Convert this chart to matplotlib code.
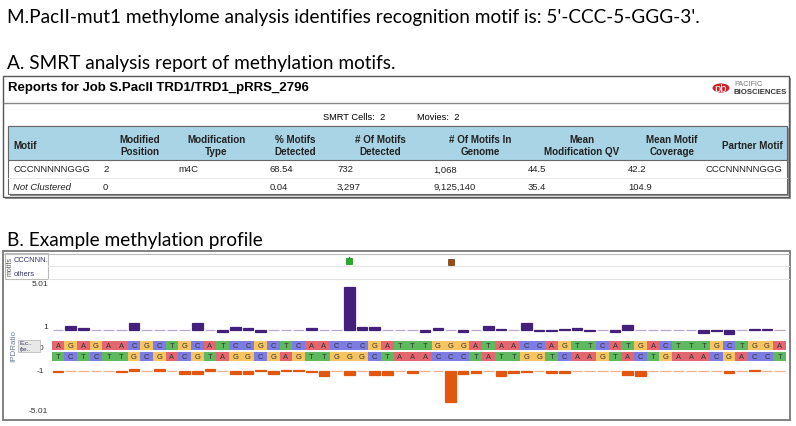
import matplotlib
matplotlib.use("Agg")
import matplotlib.pyplot as plt
from matplotlib.patches import Rectangle, Circle
from matplotlib.lines import Line2D
import matplotlib.transforms as mtransforms

# ---- data ----
title = "M.PacII-mut1 methylome analysis identifies recognition motif is: 5'-CCC-5-GGG-3'."
part_a = "A. SMRT analysis report of methylation motifs."
part_b = "B. Example methylation profile"
job_title = "Reports for Job S.PacII TRD1/TRD1_pRRS_2796"
smrt_cells = 2
movies = 2

col_headers = ["Motif", "Modified\nPosition", "Modification\nType", "% Motifs\nDetected",
               "# Of Motifs\nDetected", "# Of Motifs In\nGenome", "Mean\nModification QV",
               "Mean Motif\nCoverage", "Partner Motif"]
motifs = ["CCCNNNNNGGG", "Not Clustered"]
mod_position = [2, 0]
mod_type = ["m4C", ""]
pct_detected = [68.54, 0.04]
n_detected = [732, 3297]
n_genome = [1068, 9125140]
mean_qv = [44.5, 35.4]
mean_cov = [42.2, 104.9]
partner = ["CCCNNNNNGGG", ""]

top_seq = "AGAGAACGCTGCATCCGCTCAACCCGATTTGGGATAACCAGTTCATGACTTTGCTGGA"
bot_seq = "TCTCTTGCGACGTAGGCGAGTTGGGCTAAACCCTATTGGTCAAGTACTGAAACGACCT"

ipd_top = [0.97, 1.37, 1.22, 0.98, 0.98, 1.02, 1.62, 0.98, 0.99, 0.99,
           0.99, 1.62, 0.98, 0.78, 1.25, 1.19, 0.80, 0.99, 0.98, 0.99,
           1.19, 0.99, 0.99, 5.01, 1.28, 1.28, 0.98, 0.99, 0.97, 0.78,
           1.20, 0.99, 0.81, 0.99, 1.35, 1.12, 0.98, 1.62, 0.93, 0.93,
           1.07, 1.16, 0.92, 0.99, 0.80, 1.48, 0.99, 0.99, 0.99, 0.99,
           0.98, 0.76, 0.92, 0.62, 0.99, 1.13, 1.08, 0.99]
ipd_bot = [1.06, 0.97, 0.98, 0.98, 0.98, 1.06, 0.85, 0.98, 0.85, 0.98,
           1.32, 1.30, 0.84, 0.98, 1.32, 1.32, 0.94, 1.26, 0.86, 0.90,
           1.06, 1.47, 0.97, 1.37, 0.97, 1.37, 1.37, 0.96, 1.15, 0.96,
           0.98, 3.93, 1.31, 1.16, 0.98, 1.45, 1.22, 1.07, 0.98, 1.16,
           1.16, 0.96, 0.98, 0.98, 0.98, 1.38, 1.45, 0.96, 0.98, 0.98,
           0.98, 0.98, 0.98, 1.18, 0.98, 0.86, 0.98, 0.98]
hit_pos = [23, 31]
hit_strand = ["+", "-"]
top_ticks = [1, 5.01]
bot_ticks = [-1, -5.01]

# ---- layout helpers (pixel coords, y from top) ----
W, H = 796, 427
fig = plt.figure(figsize=(W / 100, H / 100), dpi=100)
fig.patch.set_facecolor("white")

def fx(x):
    return x / W

def fy(y):
    return 1 - y / H

def rect(x0, y0, x1, y1, **kw):
    r = Rectangle((fx(x0), fy(y1)), (x1 - x0) / W, (y1 - y0) / H,
                  transform=fig.transFigure, **kw)
    fig.add_artist(r)
    return r

def hline(y, x0, x1, **kw):
    fig.add_artist(Line2D([fx(x0), fx(x1)], [fy(y), fy(y)], transform=fig.transFigure, **kw))

sans = "Liberation Sans"
head_font = "Lato"
tfs = 7.1  # table font size

# ---- captions ----
fig.text(fx(7), fy(23), title, fontsize=13.7, family=head_font, va="baseline")
fig.text(fx(7), fy(69), part_a, fontsize=13.7, family=head_font, va="baseline")
fig.text(fx(7), fy(246), part_b, fontsize=13.7, family=head_font, va="baseline")

# ---- panel A: report table ----
rect(5, 79, 791, 200, facecolor="#9a9a9a", edgecolor="none", zorder=0)
rect(3, 77, 789, 198, facecolor="white", edgecolor="#555555", lw=1.0, zorder=1)
fig.text(fx(8), fy(91), job_title, fontsize=9.5, family=sans, weight="bold", zorder=3)
hline(104, 4, 788, color="#888888", lw=1.0, zorder=3)

# logo
fig.add_artist(Circle((fx(721), fy(89)), 8.5 / W, transform=fig.transFigure,
                      facecolor="#d0202a", edgecolor="none", zorder=3))
fig.text(fx(721), fy(89.5), "pb", fontsize=8, color="white", ha="center", va="center",
         family=sans, zorder=4)
fig.text(fx(734), fy(84.5), "PACIFIC", fontsize=5.2, color="#777777", family=sans, va="center", zorder=3)
fig.text(fx(734), fy(93), "BIOSCIENCES", fontsize=5.6, color="#333333", family=sans,
         weight="bold", va="center", zorder=3)

fig.text(fx(323), fy(117), f"SMRT Cells:  {smrt_cells}", fontsize=tfs - 0.4, family=sans, va="center", zorder=3)
fig.text(fx(417), fy(117), f"Movies:  {movies}", fontsize=tfs - 0.4, family=sans, va="center", zorder=3)

rect(10, 129, 789, 197, facecolor="#8f8f8f", edgecolor="none", zorder=2)
rect(8, 127, 787, 195, facecolor="white", edgecolor="#666666", lw=0.8, zorder=2)
rect(8, 127, 787, 161, facecolor="#a9d4e6", edgecolor="#666666", lw=0.8, zorder=2)

head_x = [13, 140, 216, 295, 380, 480, 582, 672, 752]
for i, (hx, lab) in enumerate(zip(head_x, col_headers)):
    fig.text(fx(hx), fy(146), lab, fontsize=tfs, family=sans, weight="bold",
             ha="left" if i == 0 else "center", va="center", linespacing=1.35,
             color="#222222", zorder=3)

val_x = [13, 103, 178, 270, 337, 433, 528, 628, 705]
row_y = [170, 187]
for r in range(2):
    cells = [motifs[r], str(mod_position[r]), mod_type[r], f"{pct_detected[r]:.2f}",
             f"{n_detected[r]:,}", f"{n_genome[r]:,}", f"{mean_qv[r]}", f"{mean_cov[r]}", partner[r]]
    for c, (vx, s) in enumerate(zip(val_x, cells)):
        style = "italic" if (r == 1 and c == 0) else "normal"
        fig.text(fx(vx), fy(row_y[r]), s, fontsize=tfs - 0.3, family=sans, style=style,
                 va="center", color="#222222", zorder=3)
hline(178.5, 8, 787, color="#e4e4e4", lw=0.6, zorder=3)

# ---- panel B: methylation profile ----
rect(3, 252, 790, 421, facecolor="none", edgecolor="#777777", lw=1.3, zorder=1)
hline(255, 4, 789, color="#bbbbbb", lw=0.8)
X0, X1 = 51.7, 786.0
n = len(top_seq)
xs = list(range(n))

# motif track
rect(5, 254, 48, 280, facecolor="none", edgecolor="#bbbbbb", lw=0.8)
hline(267, 48, 789, color="#e2e2e2", lw=0.8)
hline(280, 48, 789, color="#e2e2e2", lw=0.8)
fig.text(fx(10), fy(267), "motifs", fontsize=5, rotation=90, ha="center", va="center",
         color="#555555", family=sans)
fig.text(fx(14), fy(260), "CCCNNN.", fontsize=5.4, color="#333366", va="center", family=sans)
fig.text(fx(14), fy(274), "others", fontsize=5.4, color="#333366", va="center", family=sans)

ax_m = fig.add_axes([fx(X0), fy(280), (X1 - X0) / W, 26 / H])
ax_m.set_xlim(-0.5, n - 0.5)
ax_m.set_ylim(0, 26)
ax_m.axis("off")
for p, s in zip(hit_pos, hit_strand):
    if s == "+":
        ax_m.plot([p, p], [18, 22], color="#1a9a1a", lw=0.9)
        ax_m.plot(p, 18, marker="s", ms=3.8, color="#22b022", mec="#118811", mew=0.5)
    else:
        ax_m.plot([p, p], [17, 13], color="#7a3a10", lw=0.9)
        ax_m.plot(p, 17, marker="s", ms=3.8, color="#9a4a12", mec="#6a300c", mew=0.5)

PX = 10.7  # pixels per IPD unit

ax_top = fig.add_axes([fx(X0), fy(341), (X1 - X0) / W, (341 - 272) / H])
ax_top.set_xlim(-0.5, n - 0.5)
ax_top.set_ylim(1 - (341 - 331) / PX, 1 + (331 - 272) / PX)
ax_top.axis("off")
top_cols = ["#43207c" if abs(v - 1) > 0.05 else "#b9aad2" for v in ipd_top]
ax_top.bar(xs, [v - 1 for v in ipd_top], bottom=1, width=0.84, color=top_cols,
           edgecolor=top_cols, linewidth=0.9)
tr = mtransforms.blended_transform_factory(ax_top.transAxes, ax_top.transData)
for t in top_ticks:
    ax_top.text(-0.005, t, f"{t:g}", transform=tr, ha="right", va="bottom",
                fontsize=6, color="#333333", family=sans)

base_cols = {"A": "#e4676f", "G": "#f7c462", "C": "#7c7ce2", "T": "#5fba5f"}
ax_seq = fig.add_axes([fx(X0), fy(362), (X1 - X0) / W, 20 / H])
ax_seq.set_xlim(-0.5, n - 0.5)
ax_seq.set_ylim(0, 20)
ax_seq.axis("off")
ax_seq.bar(xs, 9, bottom=11, width=1.0, color=[base_cols[b] for b in top_seq])
ax_seq.bar(xs, 9, bottom=0, width=1.0, color=[base_cols[b] for b in bot_seq])
for i in xs:
    ax_seq.text(i, 15.5, top_seq[i], ha="center", va="center", fontsize=5.4, color="#333333", family=sans)
    ax_seq.text(i, 4.5, bot_seq[i], ha="center", va="center", fontsize=5.4, color="#333333", family=sans)
ax_seq.text(-0.012, 14, "0", transform=mtransforms.blended_transform_factory(ax_seq.transAxes, ax_seq.transData),
            ha="right", va="center", fontsize=6, color="#333333", family=sans)

ax_bot = fig.add_axes([fx(X0), fy(419), (X1 - X0) / W, (419 - 363) / H])
ax_bot.set_xlim(-0.5, n - 0.5)
ax_bot.set_ylim(-1 - (419 - 372) / PX, -1 + (372 - 363) / PX)
ax_bot.axis("off")
bot_cols = ["#e2560f" if abs(v - 1) > 0.05 else "#f3ad88" for v in ipd_bot]
ax_bot.bar(xs, [-(v - 1) for v in ipd_bot], bottom=-1, width=0.84, color=bot_cols,
           edgecolor=bot_cols, linewidth=0.9)
trb = mtransforms.blended_transform_factory(ax_bot.transAxes, ax_bot.transData)
ax_bot.text(-0.01, bot_ticks[0], f"{bot_ticks[0]:g}", transform=trb, ha="right", va="center",
            fontsize=6, color="#333333", family=sans)
ax_bot.text(-0.005, bot_ticks[1], f"{bot_ticks[1]:g}", transform=trb, ha="right", va="bottom",
            fontsize=6, color="#333333", family=sans)

# left labels of the IPD track
fig.text(fx(14), fy(346), "IPDRatio", fontsize=5.8, rotation=90, ha="center", va="center",
         color="#6a7a9a", family=sans)
rect(18, 341, 40, 353, facecolor="#e8e8e8", edgecolor="#bbbbbb", lw=0.6)
fig.text(fx(20), fy(344), "E.c..", fontsize=4.6, va="center", color="#333366", family=sans)
fig.text(fx(20), fy(350), "(te..", fontsize=4.6, va="center", color="#333366", family=sans)

fig.savefig("out.png", dpi=100, facecolor="white")
